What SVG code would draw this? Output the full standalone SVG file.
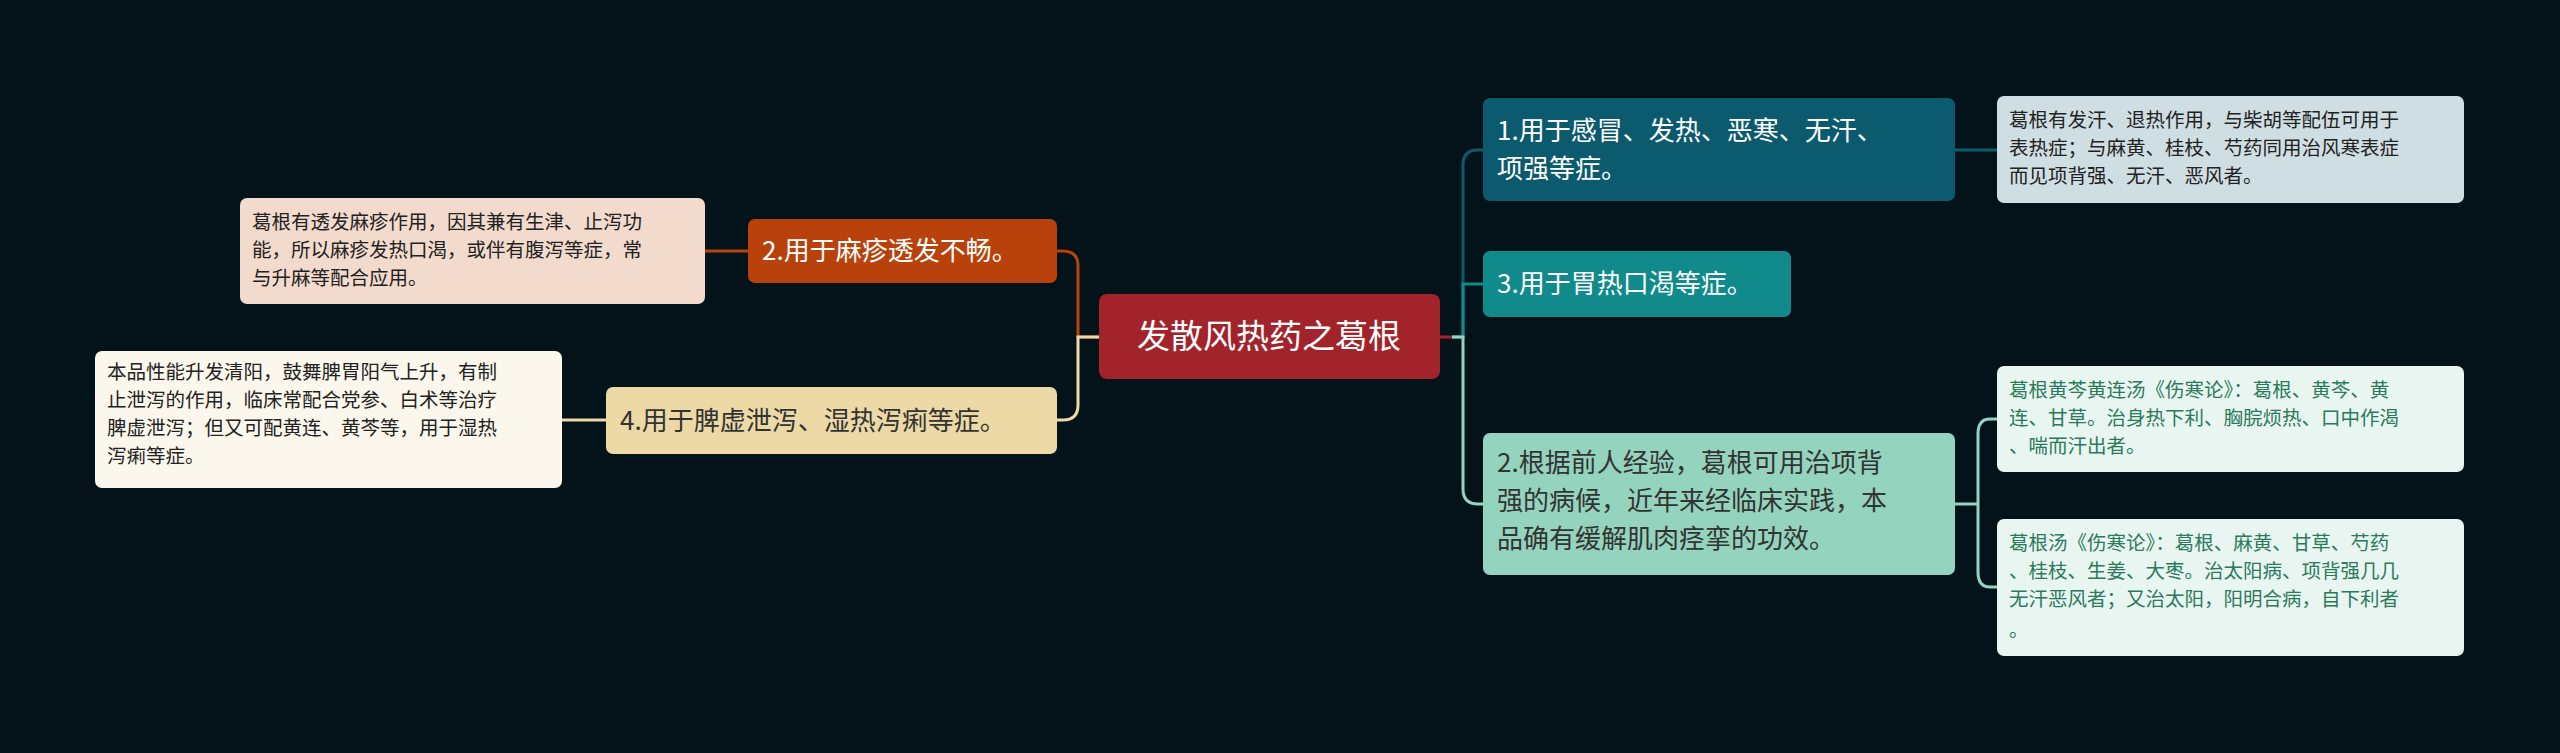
<svg xmlns="http://www.w3.org/2000/svg" width="2560" height="753" viewBox="0 0 2560 753">
<style>
text{font-family:"Noto Sans CJK SC","Noto Sans",sans-serif}
.m{font-size:26px}
.l{font-size:19.5px}
.c{fill:none;stroke-width:3}
</style>
<rect width="2560" height="753" fill="#04121a"/>
<g id="connectors">
<path class="c" stroke="#a3232b" d="M1440 337 H1452"/>
<path class="c" stroke="#0c5a6e" d="M1452 337 H1463 V165 Q1463 150 1478 150 H1483"/>
<path class="c" stroke="#108a8a" d="M1452 337 H1463 V284 H1483"/>
<path class="c" stroke="#94d3bd" d="M1452 337 H1463 V489 Q1463 504 1478 504 H1483"/>
<path class="c" stroke="#b9420c" d="M1099 337 H1078 V266 Q1078 251 1063 251 H1057"/>
<path class="c" stroke="#ecd9a6" d="M1099 337 H1078 V405 Q1078 420 1063 420 H1057"/>
<path class="c" stroke="#0c5a6e" d="M1955 150 H1997"/>
<path class="c" stroke="#94d3bd" d="M1955 504 H1978 V434 Q1978 419 1990 419 H1997 M1978 504 V572 Q1978 587 1990 587 H1997"/>
<path class="c" stroke="#b9420c" d="M748 251 H705"/>
<path class="c" stroke="#ecd9a6" d="M606 420 H562"/>
</g>
<g id="root"><rect x="1099" y="294" width="341" height="85" rx="8" fill="#a3232b"/><text x="1269" y="348" font-size="33" fill="#fff" text-anchor="middle">发散风热药之葛根</text></g>
<g id="n2"><rect x="748" y="219" width="309" height="64" rx="7" fill="#b9420c"/><text class="m" x="762" y="260" fill="#fff">2.用于麻疹透发不畅。</text></g>
<g id="n2leaf"><rect x="240" y="198" width="465" height="106" rx="7" fill="#f2dacd"/><text class="l" fill="#222"><tspan x="252" y="229">葛根有透发麻疹作用，因其兼有生津、止泻功</tspan><tspan x="252" y="257">能，所以麻疹发热口渴，或伴有腹泻等症，常</tspan><tspan x="252" y="285">与升麻等配合应用。</tspan></text></g>
<g id="n4"><rect x="606" y="387" width="451" height="67" rx="7" fill="#ecd9a6"/><text class="m" x="620" y="430" fill="#333">4.用于脾虚泄泻、湿热泻痢等症。</text></g>
<g id="n4leaf"><rect x="95" y="351" width="467" height="137" rx="7" fill="#fbf7ec"/><text class="l" fill="#222"><tspan x="107" y="379">本品性能升发清阳，鼓舞脾胃阳气上升，有制</tspan><tspan x="107" y="407">止泄泻的作用，临床常配合党参、白术等治疗</tspan><tspan x="107" y="435">脾虚泄泻；但又可配黄连、黄芩等，用于湿热</tspan><tspan x="107" y="463">泻痢等症。</tspan></text></g>
<g id="n1"><rect x="1483" y="98" width="472" height="103" rx="7" fill="#0c5a6e"/><text class="m" fill="#fff"><tspan x="1497" y="140">1.用于感冒、发热、恶寒、无汗、</tspan><tspan x="1497" y="178">项强等症。</tspan></text></g>
<g id="n1leaf"><rect x="1997" y="96" width="467" height="107" rx="7" fill="#cfdee3"/><text class="l" fill="#222"><tspan x="2009" y="127">葛根有发汗、退热作用，与柴胡等配伍可用于</tspan><tspan x="2009" y="155">表热症；与麻黄、桂枝、芍药同用治风寒表症</tspan><tspan x="2009" y="183">而见项背强、无汗、恶风者。</tspan></text></g>
<g id="n3"><rect x="1483" y="251" width="308" height="66" rx="7" fill="#108a8a"/><text class="m" x="1497" y="293" fill="#fff">3.用于胃热口渴等症。</text></g>
<g id="n5"><rect x="1483" y="433" width="472" height="142" rx="7" fill="#94d3bd"/><text class="m" fill="#333"><tspan x="1497" y="472">2.根据前人经验，葛根可用治项背</tspan><tspan x="1497" y="510">强的病候，近年来经临床实践，本</tspan><tspan x="1497" y="548">品确有缓解肌肉痉挛的功效。</tspan></text></g>
<g id="n5a"><rect x="1997" y="366" width="467" height="106" rx="7" fill="#e9f5f1"/><text class="l" fill="#2a7a5c"><tspan x="2009" y="397">葛根黄芩黄连汤《伤寒论》：葛根、黄芩、黄</tspan><tspan x="2009" y="425">连、甘草。治身热下利、胸脘烦热、口中作渴</tspan><tspan x="2009" y="453">、喘而汗出者。</tspan></text></g>
<g id="n5b"><rect x="1997" y="519" width="467" height="137" rx="7" fill="#e9f5f1"/><text class="l" fill="#2a7a5c"><tspan x="2009" y="550">葛根汤《伤寒论》：葛根、麻黄、甘草、芍药</tspan><tspan x="2009" y="578">、桂枝、生姜、大枣。治太阳病、项背强几几</tspan><tspan x="2009" y="606">无汗恶风者；又治太阳，阳明合病，自下利者</tspan><tspan x="2009" y="637">。</tspan></text></g>
</svg>
